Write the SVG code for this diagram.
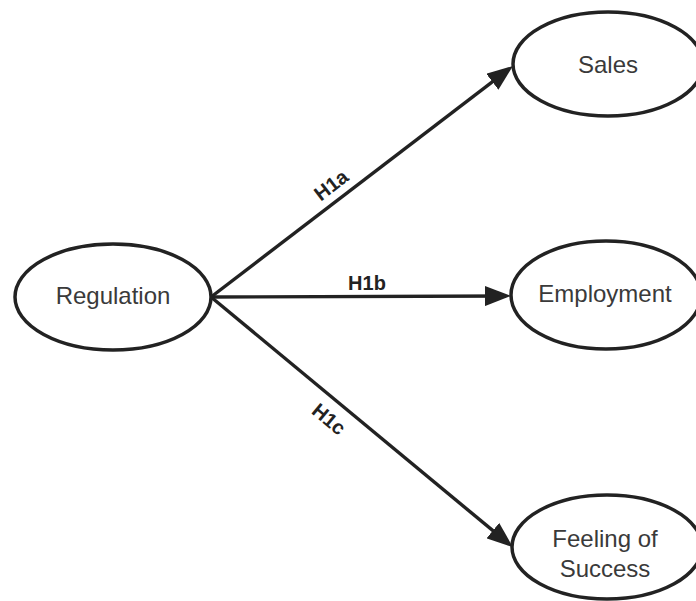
<svg xmlns="http://www.w3.org/2000/svg" width="696" height="601" viewBox="0 0 696 601">
<style>
.node{fill:#fff;stroke:#222;stroke-width:3.5}
.lbl{font-family:"Liberation Sans",Arial,sans-serif;font-size:24px;fill:#3a3a3a;text-anchor:middle}
.h{font-family:"Liberation Sans",Arial,sans-serif;font-size:20px;font-weight:bold;fill:#222;text-anchor:middle}
.edge{stroke:#222;stroke-width:3.4;fill:none;marker-end:url(#arr)}
</style>
<defs>
<marker id="arr" markerWidth="26" markerHeight="20" refX="21" refY="10" orient="auto" markerUnits="userSpaceOnUse" viewBox="0 0 26 20">
<path d="M0,0 L26,10 L0,20 Z" fill="#222"/>
</marker>
</defs>
<rect width="696" height="601" fill="#fff"/>
<g id="connectors">
<line class="edge" x1="211" y1="297" x2="509" y2="69"/>
<line class="edge" x1="211" y1="297" x2="506" y2="296"/>
<line class="edge" x1="211" y1="297" x2="509" y2="544"/>
<text class="h" transform="translate(331,185) rotate(-37.5)" y="7">H1a</text>
<text class="h" x="367" y="290">H1b</text>
<text class="h" transform="translate(329,419) rotate(39.7)" y="7">H1c</text>
</g>
<g id="regulation">
<ellipse class="node" cx="113" cy="297" rx="98" ry="53"/>
<text class="lbl" x="113" y="304">Regulation</text>
</g>
<g id="sales">
<ellipse class="node" cx="608" cy="64" rx="95" ry="52"/>
<text class="lbl" x="608" y="73">Sales</text>
</g>
<g id="employment">
<ellipse class="node" cx="606" cy="295" rx="95" ry="54"/>
<text class="lbl" x="605" y="302">Employment</text>
</g>
<g id="feeling">
<ellipse class="node" cx="607" cy="547" rx="95" ry="52"/>
<text class="lbl" x="605" y="547">Feeling of</text>
<text class="lbl" x="605" y="577">Success</text>
</g>
</svg>
